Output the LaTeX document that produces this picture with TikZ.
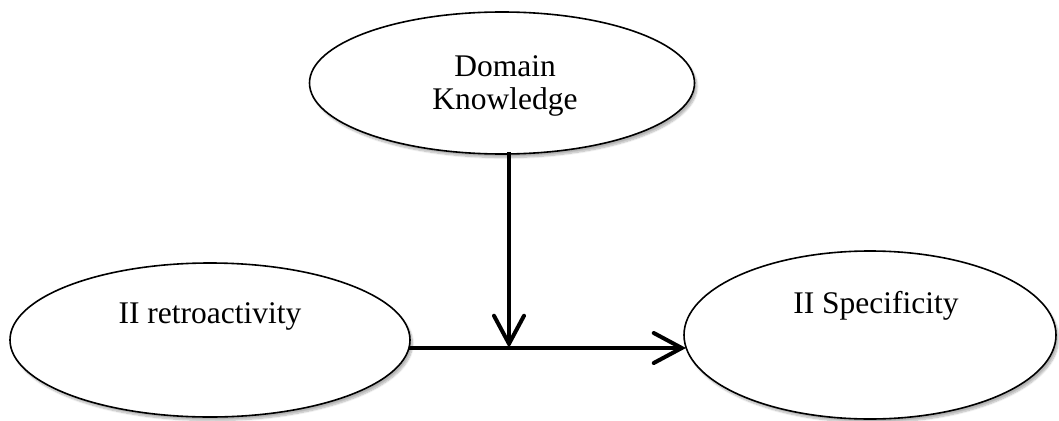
\documentclass[tikz,border=0pt]{standalone}
\usepackage{fontspec}
\setmainfont{Liberation Serif}
\usetikzlibrary{arrows.meta,shapes.geometric,shadows.blur}
\tikzset{
  oval/.style={ellipse, draw=black, line width=1.6pt, fill=white, inner sep=0pt,
    blur shadow={shadow xshift=2.5pt, shadow yshift=-3.5pt, shadow blur steps=8, shadow opacity=30}},
  lbl/.style={font=\fontsize{31.5}{33}\selectfont, align=center, inner sep=0pt},
  link/.style={line width=4pt, -{Straight Barb[length=28pt,width=30pt,line cap=round]}}
}
\begin{document}
\begin{tikzpicture}[x=1pt,y=-1pt]
  \useasboundingbox (0,0) rectangle (1059,420);
  % the three concepts
  \node[oval, minimum width=385pt, minimum height=142pt] (dk) at (502,83) {};
  \node[oval, minimum width=400pt, minimum height=154pt] (ret) at (210,340) {};
  \node[oval, minimum width=372pt, minimum height=168pt] (spec) at (870,335) {};
  \node[lbl] (dkt) at (505,86) {Domain\\Knowledge};
  \node[lbl, anchor=base] (rett) at (210,323) {II retroactivity};
  \node[lbl, anchor=base] (spect) at (876,313) {II Specificity};
  % moderation: domain knowledge acts on the main path
  \coordinate (j) at (509,348);
  \coordinate (rs) at (409,348);
  \coordinate (se) at (686,348);
  \coordinate (ds) at (509,152);
  \draw[line width=4pt] (rs) -- (j);
  \draw[link] (j) -- (se);
  \draw[link] (ds) -- (j);
\end{tikzpicture}
\end{document}
